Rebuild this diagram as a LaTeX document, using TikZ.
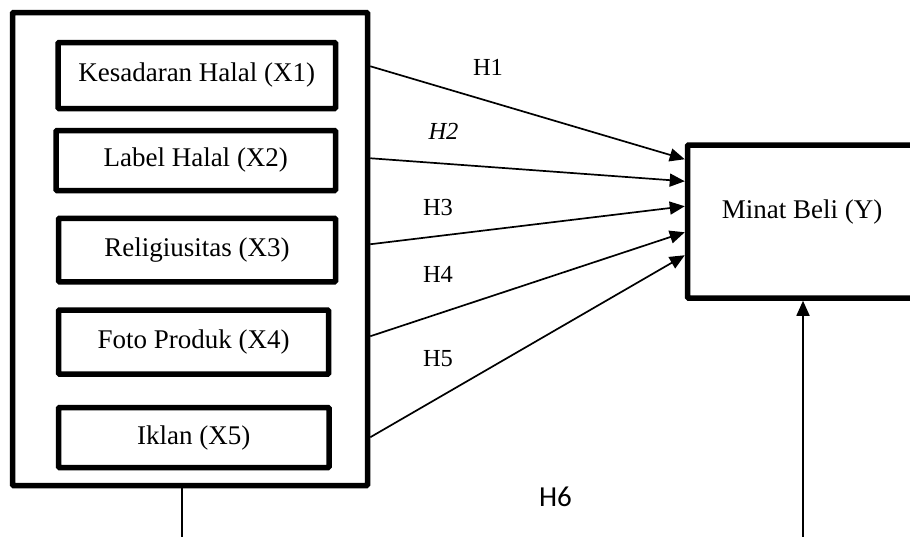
\documentclass[tikz,border=0pt]{standalone}
\usepackage{fontspec}
\setmainfont{Liberation Serif}
\newfontfamily\hsans{Carlito}
\usetikzlibrary{arrows.meta,calc}

\tikzset{
  heavybox/.style={draw=black, line width=5.5pt, rounded corners=1pt, inner sep=0pt},
  varbox/.style={heavybox, font=\fontsize{27}{30}\selectfont},
  link/.style={line width=1.7pt, -{Triangle[length=15pt,width=13pt]}},
  hyp/.style={font=\fontsize{24.5}{28}\selectfont, inner sep=0pt},
}

\begin{document}
\begin{tikzpicture}[x=1pt, y=-1pt]
  \useasboundingbox (0,0) rectangle (910,536);
  \clip (0,0) rectangle (910,536);

  % independent variables grouped in one frame
  \node[heavybox, minimum width=355pt, minimum height=473pt] (outer) at (190,249) {};
  \node[varbox, minimum width=277.5pt, minimum height=66pt] (x1) at (196.75,75.5) {Kesadaran Halal (X1)};
  \node[varbox, minimum width=279.5pt, minimum height=60pt] (x2) at (195.75,160.5) {Label Halal (X2)};
  \node[varbox, minimum width=277pt, minimum height=63.5pt] (x3) at (197,250) {Religiusitas (X3)};
  \node[varbox, minimum width=270pt, minimum height=64pt] (x4) at (193.6,342) {Foto Produk (X4)};
  \node[varbox, minimum width=270.5pt, minimum height=60pt] (x5) at (193.75,437.5) {Iklan (X5)};

  % dependent variable
  \node[heavybox, minimum width=230.5pt, minimum height=153pt] (y) at (802.75,221.5) {};
  \node[font=\fontsize{27}{30}\selectfont, inner sep=0pt] (ylab) at (802,212) {Minat Beli (Y)};

  % partial effects H1--H5
  \draw[link] ($(outer.north east)+(0,56.5)$)  -- ($(y.north west)+(0,17)$);
  \draw[link] ($(outer.north east)+(0,148.5)$) -- ($(y.north west)+(0,39)$);
  \draw[link] ($(outer.north east)+(0,234.5)$) -- ($(y.north west)+(0,64)$);
  \draw[link] ($(outer.north east)+(0,326.5)$) -- ($(y.north west)+(0,90)$);
  \draw[link] ($(outer.north east)+(0,427.5)$) -- ($(y.north west)+(0,113)$);

  \node[hyp] (h1) at (488,67) {H1};
  \node[hyp] (h2) at (443.5,131) {\itshape H2};
  \node[hyp] (h3) at (438,207.5) {H3};
  \node[hyp] (h4) at (438,274) {H4};
  \node[hyp] (h5) at (438,359) {H5};

  % simultaneous effect H6
  \coordinate (lfoot) at (182,540);
  \coordinate (rfoot) at (803,540);
  \draw[line width=1.7pt] (lfoot |- outer.south) -- (lfoot);
  \draw[link] (rfoot) -- (rfoot |- y.south);
  \node[font=\hsans\fontsize{29}{32}\selectfont, inner sep=0pt] (h6) at (555.5,497) {H6};
\end{tikzpicture}
\end{document}
